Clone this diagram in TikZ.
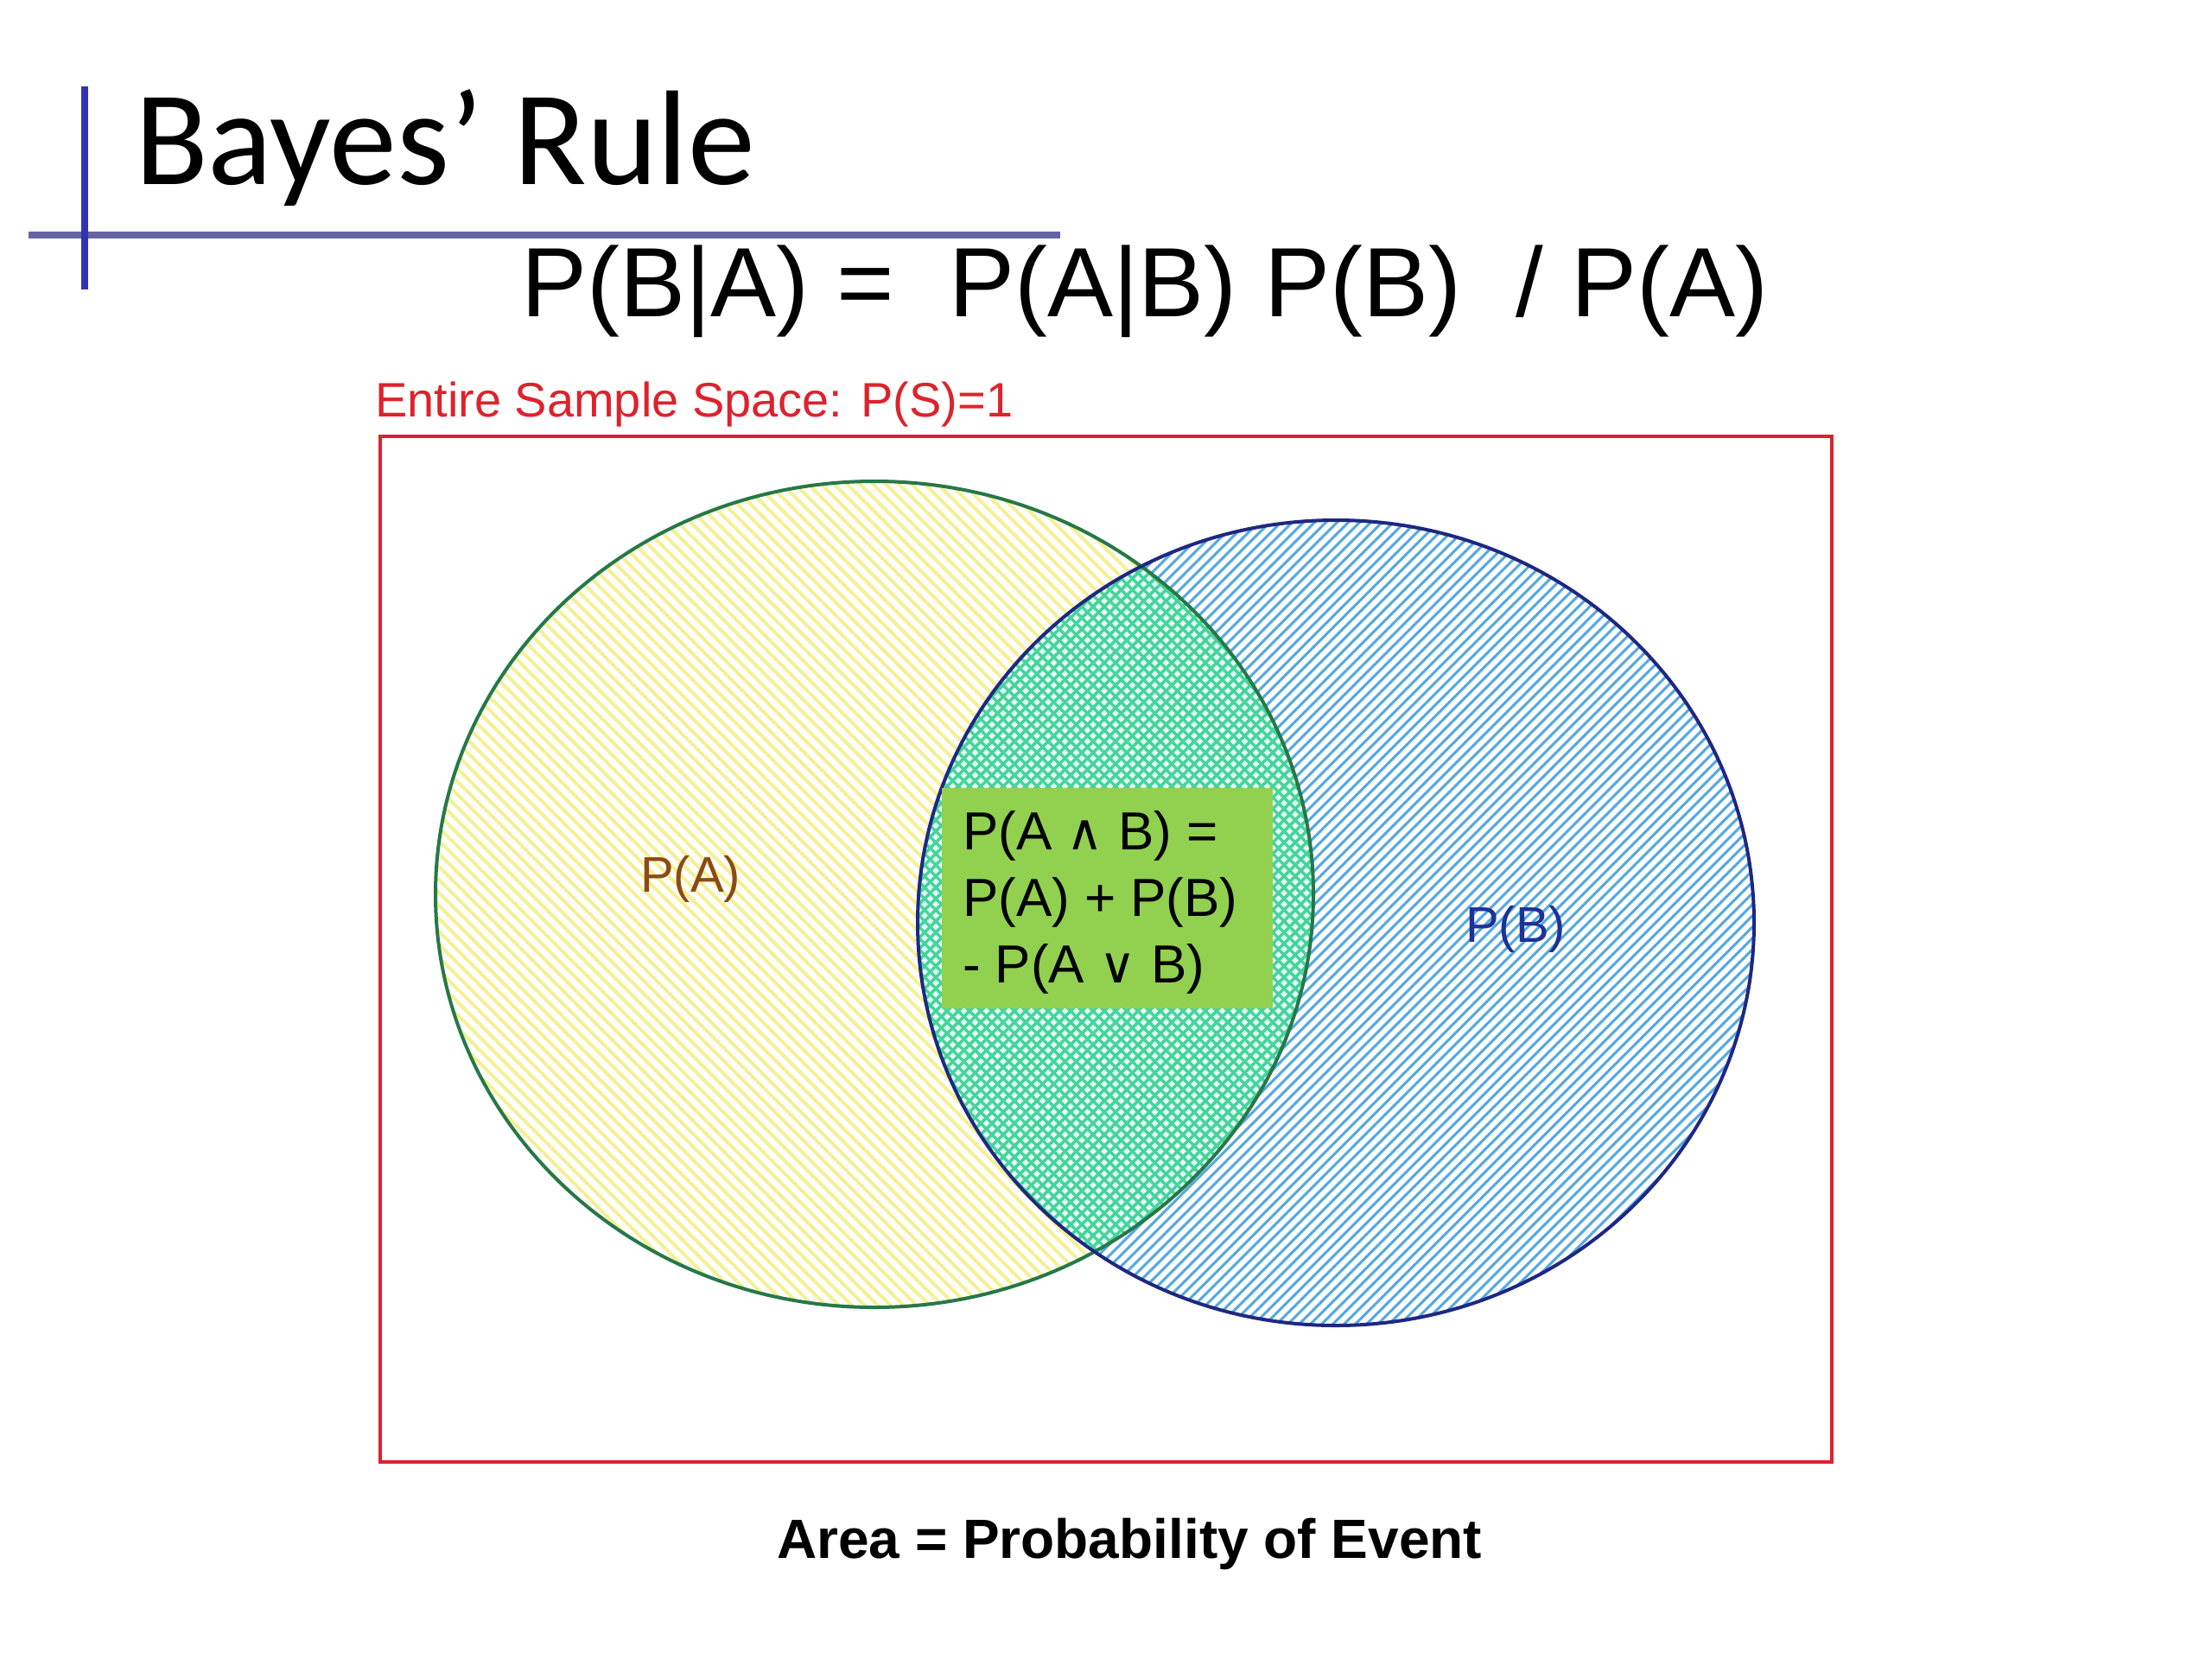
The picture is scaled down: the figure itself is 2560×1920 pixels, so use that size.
\documentclass[tikz,border=0pt]{standalone}
\usepackage{fontspec}
\setmainfont{Liberation Sans}
\newfontfamily\carlito{Carlito}
\newfontfamily\dejavu{DejaVu Sans}
\newcommand\pxfont[1]{\fontsize{#1}{#1}\selectfont}
\newcommand\andglyph{{\dejavu\pxfont{58}∧}}
\newcommand\orglyph{{\dejavu\pxfont{58}∨}}
\definecolor{barblue}{RGB}{50,50,180}
\definecolor{ruleblue}{RGB}{100,100,165}
\definecolor{redline}{RGB}{220,35,45}
\definecolor{agreen}{RGB}{38,120,72}
\definecolor{bnavy}{RGB}{30,40,130}
\definecolor{yelstripe}{RGB}{245,240,150}
\definecolor{bluestripe}{RGB}{85,168,225}
\definecolor{xbg}{RGB}{228,252,246}
\definecolor{xline}{RGB}{70,212,155}
\definecolor{boxgreen}{RGB}{146,208,80}
\definecolor{brownA}{RGB}{140,75,20}
\definecolor{blueB}{RGB}{30,50,150}
\begin{document}
\begin{tikzpicture}[x=1pt,y=-1pt,
  txt/.style={inner sep=0pt, outer sep=0pt, anchor=base west},
  ellA/.style={x radius=508, y radius=478},
  ellB/.style={x radius=484, y radius=466}]
\useasboundingbox (0,0) rectangle (2560,1920);
% title decoration
\draw[line width=8pt, ruleblue] (33,272) -- (1227,272);
\draw[line width=8pt, barblue] (98,100) -- (98,335);
\node[txt] (title) at (156,213) {\carlito\pxfont{156}Bayes’ Rule};
\node[txt] (eq) at (603,366) {\pxfont{114}P(B|A) =\ \ P(A|B) P(B)\ \ / P(A)};
% sample space
\node[txt, text=redline] (sslabel) at (434,482) {\pxfont{56}Entire Sample Space: P(S)=1};
\draw[line width=4pt, redline] (440,505) rectangle (2120,1692);
% set A hatching
\begin{scope}
  \clip (1012,1035) ellipse [ellA];
  \foreach \k in {-700,-685,...,1650} \draw[yelstripe, line width=4pt] (\k,500) -- ++(1100,1100);
\end{scope}
% set B hatching
\begin{scope}
  \clip (1546,1068) ellipse [ellB];
  \foreach \k in {-150,-137,...,2150} \draw[bluestripe, line width=3pt] (\k,1600) -- ++(1100,-1100);
\end{scope}
% intersection crosshatch
\begin{scope}
  \clip (1012,1035) ellipse [ellA];
  \clip (1546,1068) ellipse [ellB];
  \fill[xbg] (1000,500) rectangle (1600,1600);
  \foreach \k in {-250,-237,...,1750} {
    \draw[xline, line width=3.5pt] (\k,500) -- ++(1100,1100);
    \draw[xline, line width=3.5pt] (\k+500,1600) -- ++(1100,-1100);
  }
\end{scope}
% outlines
\draw[agreen, line width=4pt] (1012,1035) ellipse [ellA];
\draw[bnavy, line width=4pt] (1546,1068) ellipse [ellB];
% labels
\node[txt, text=brownA] (pa) at (741,1032) {\pxfont{58}P(A)};
\node[txt, text=blueB] (pb) at (1696,1090) {\pxfont{58}P(B)};
% green box
\node (box) [fill=boxgreen, inner sep=0pt, minimum width=383pt, minimum height=255pt, anchor=north west] at (1090,912) {};
\node[txt] (l1) at (1114,983) {\pxfont{62}P(A \andglyph\ B) =};
\node[txt] (l2) at (1114,1060) {\pxfont{62}P(A) + P(B)};
\node[txt] (l3) at (1114,1137) {\pxfont{62}- P(A \orglyph\ B)};
% caption
\node[txt] (caption) at (899,1803) {\pxfont{64}\bfseries Area = Probability of Event};
\end{tikzpicture}
\end{document}
